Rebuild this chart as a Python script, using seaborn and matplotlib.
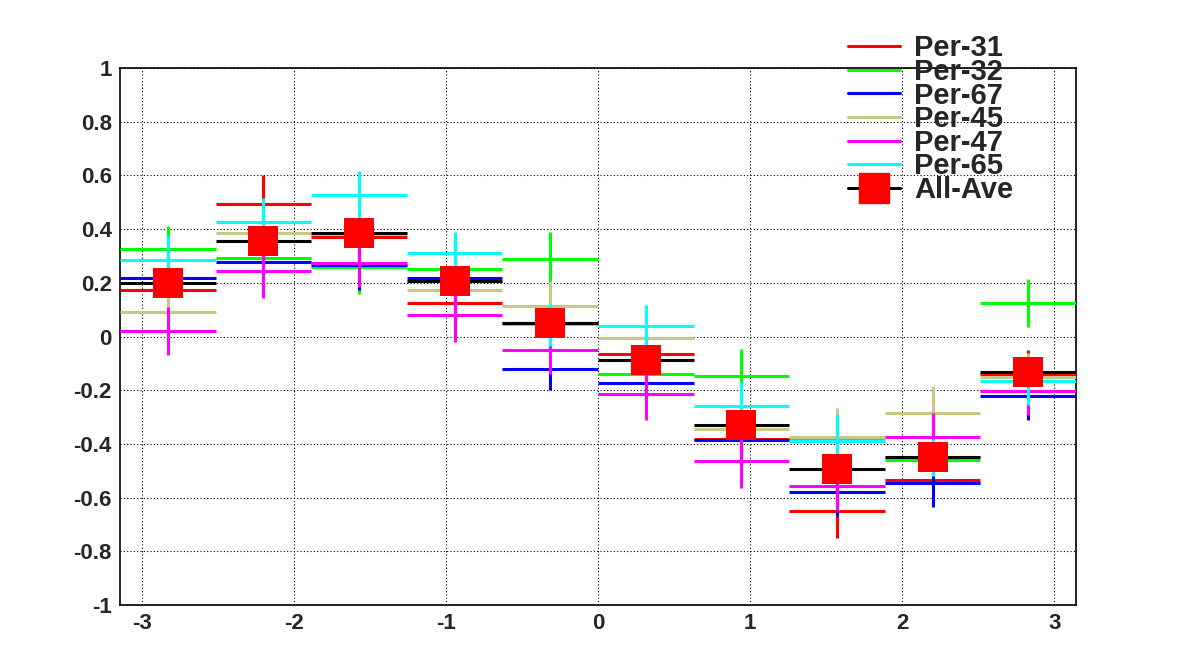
import numpy as np
import matplotlib
matplotlib.use("Agg")
import matplotlib.pyplot as plt
from matplotlib.lines import Line2D
from matplotlib.ticker import MultipleLocator
import seaborn as sns
import pandas as pd

# ---------------- data ----------------
series_names = ["Per-31", "Per-32", "Per-67", "Per-45", "Per-47", "Per-65"]
series_colors = ["#ff0000", "#00ff00", "#0000ff", "#c8c882", "#ff00ff", "#00ffff"]

per31 = [0.173, 0.493, 0.369, 0.124, 0.050, -0.065, -0.380, -0.650, -0.534, -0.140]
per32 = [0.326, 0.292, 0.260, 0.251, 0.289, -0.140, -0.148, -0.380, -0.460, 0.126]
per67 = [0.218, 0.277, 0.265, 0.218, -0.121, -0.173, -0.385, -0.579, -0.544, -0.220]
per45 = [0.090, 0.384, 0.380, 0.173, 0.115, -0.005, -0.345, -0.375, -0.286, -0.152]
per47 = [0.020, 0.244, 0.274, 0.081, -0.050, -0.215, -0.465, -0.558, -0.375, -0.203]
per65 = [0.285, 0.426, 0.527, 0.310, 0.045, 0.039, -0.259, -0.389, -0.450, -0.166]

err31 = [0.09, 0.11, 0.09, 0.09, 0.05, 0.09, 0.09, 0.10, 0.09, 0.09]
err32 = [0.085, 0.09, 0.10, 0.09, 0.10, 0.09, 0.10, 0.09, 0.05, 0.09]
err67 = [0.09, 0.09, 0.09, 0.09, 0.08, 0.09, 0.09, 0.09, 0.09, 0.09]
err45 = [0.09, 0.09, 0.05, 0.09, 0.09, 0.09, 0.09, 0.108, 0.10, 0.09]
err47 = [0.09, 0.10, 0.09, 0.10, 0.09, 0.095, 0.10, 0.09, 0.09, 0.09]
err65 = [0.09, 0.09, 0.09, 0.08, 0.08, 0.08, 0.09, 0.10, 0.07, 0.09]

ave = [0.200, 0.354, 0.386, 0.205, 0.052, -0.088, -0.328, -0.492, -0.449, -0.134]
ave_err = [0.04, 0.04, 0.04, 0.04, 0.04, 0.04, 0.04, 0.04, 0.04, 0.04]

x_tick_labels = ["-3", "-2", "-1", "0", "1", "2", "3"]
y_tick_labels = ["-1", "-0.8", "-0.6", "-0.4", "-0.2", "0", "0.2", "0.4", "0.6", "0.8", "1"]

# ---------------- plot ----------------
sns.set_style("white")
plt.rcParams["font.family"] = ["Liberation Sans", "DejaVu Sans"]
plt.rcParams["font.weight"] = "bold"

n_bins = len(ave)
edges = np.linspace(-np.pi, np.pi, n_bins + 1)
centers = 0.5 * (edges[:-1] + edges[1:])
half_w = 0.5 * (edges[1] - edges[0])

fig = plt.figure(figsize=(11.96, 6.72), dpi=100)
ax = fig.add_axes([0.1003, 0.0997, 0.7994, 0.7991])

lw = 2.2
all_vals = [per31, per32, per67, per45, per47, per65]
all_errs = [err31, err32, err67, err45, err47, err65]
for name, col, vals, errs in zip(series_names, series_colors, all_vals, all_errs):
    ax.errorbar(centers, vals, xerr=half_w, yerr=errs, fmt="none",
                ecolor=col, elinewidth=lw, capsize=0, zorder=3)

ax.errorbar(centers, ave, xerr=half_w, yerr=ave_err, fmt="none",
            ecolor="black", elinewidth=lw, capsize=0, zorder=4)
df_ave = pd.DataFrame({"x": centers, "y": ave})
sns.scatterplot(data=df_ave, x="x", y="y", marker="s", s=480, color="red",
                edgecolor="red", linewidth=0, ax=ax, zorder=5, legend=False)

ax.set_xlim(-np.pi, np.pi)
ax.set_ylim(-1, 1)
ax.set_xlabel("")
ax.set_ylabel("")

ax.set_xticks([int(t) for t in x_tick_labels])
ax.set_xticklabels(x_tick_labels)
ax.set_yticks([float(t) for t in y_tick_labels])
ax.set_yticklabels(y_tick_labels)
ax.xaxis.set_minor_locator(MultipleLocator(0.2))
ax.yaxis.set_minor_locator(MultipleLocator(0.05))

ax.tick_params(axis="both", which="both", direction="in", top=False, right=False,
               labelsize=16, width=1, color="black")
ax.tick_params(axis="x", which="major", length=10, pad=5.5)
ax.tick_params(axis="x", which="minor", length=6)
ax.tick_params(axis="y", which="major", length=8, pad=6)
ax.tick_params(axis="y", which="minor", length=8)
for lab in ax.get_xticklabels() + ax.get_yticklabels():
    lab.set_fontweight("bold")

ax.grid(True, which="major", color="black", linestyle=(0, (1, 2)), linewidth=0.8)
ax.set_axisbelow(True)
for sp in ax.spines.values():
    sp.set_visible(True)
    sp.set_color("black")
    sp.set_linewidth(1.2)

handles = [Line2D([], [], color=c, lw=lw) for c in series_colors]
handles.append(Line2D([], [], color="black", lw=lw, marker="s", markersize=21.6,
                      markerfacecolor="red", markeredgecolor="red"))
labels = series_names + ["All-Ave"]
leg = fig.legend(handles, labels, loc="upper left", bbox_to_anchor=(0.7093, 0.949),
                 frameon=False, handlelength=1.78, handletextpad=0.48,
                 labelspacing=-0.15, borderpad=0, borderaxespad=0,
                 prop={"weight": "bold", "size": 21})
leg.set_zorder(10)

fig.savefig("out.png", dpi=100)
